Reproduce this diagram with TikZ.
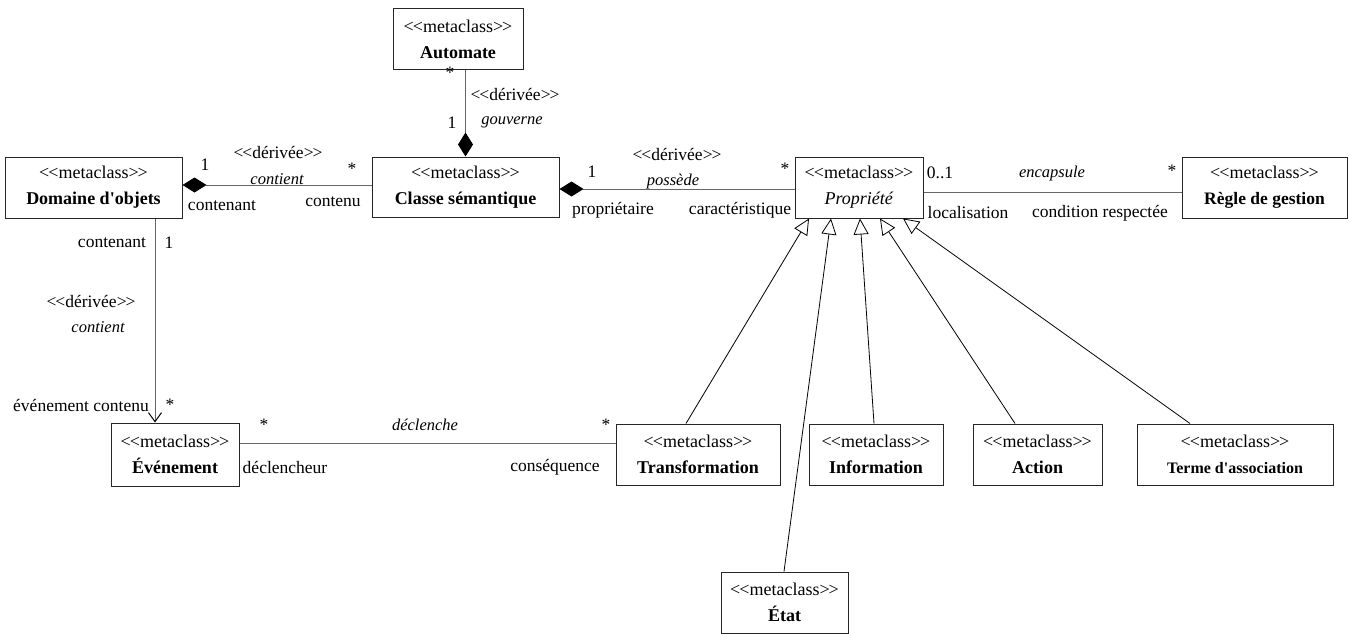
\documentclass[tikz,border=0pt]{standalone}
\usepackage{fontspec}
\setmainfont{Liberation Serif}[Ligatures=TeXOff]
\usetikzlibrary{arrows.meta}
\newcommand\stereo[1]{<\kern-1pt<#1>\kern-1pt>}
\begin{document}
\begin{tikzpicture}[x=1pt,y=-1pt,
  cls/.style={draw=black!85, line width=1pt, align=center, inner sep=0pt, minimum height=61pt, font=\fontsize{18}{26}\selectfont},
  lbl/.style={font=\fontsize{17.5}{18}\selectfont, inner sep=0pt},
  ilbl/.style={font=\fontsize{16.5}{18}\selectfont\itshape, inner sep=0pt},
  assoc/.style={draw=black!60, line width=1pt},
  gen/.style={draw=black, line width=0.8pt, -{Triangle[open,length=16pt,width=15pt]}},
  comp/.style={{Diamond[length=24pt,width=15pt,color=black]}-},
  nav/.style={-{Straight Barb[length=9pt,width=13pt,color=black]}},
]
\useasboundingbox (0,0) rectangle (1352,634);

% classes
\node[cls, minimum width=130pt] (auto) at (458,39.5) {\stereo{metaclass}\\\textbf{Automate}};
\node[cls, minimum width=187pt, minimum height=60pt] (csem) at (465.5,187) {\stereo{metaclass}\\\textbf{Classe sémantique}};
\node[cls, minimum width=177pt] (dom) at (93.5,187.5) {\stereo{metaclass}\\\textbf{Domaine d'objets}};
\node[cls, minimum width=128pt] (prop) at (859,187.5) {\stereo{metaclass}\\\textit{Propriété}};
\node[cls, minimum width=165pt] (regle) at (1264.5,187.5) {\stereo{metaclass}\\{\fontsize{17.5}{26}\selectfont\textbf{Règle de gestion}}};
\node[cls, minimum width=128pt, minimum height=63pt] (evt) at (175,454.5) {\stereo{metaclass}\\\textbf{Événement}};
\node[cls, minimum width=164pt] (trans) at (698,454.5) {\stereo{metaclass}\\\textbf{Transformation}};
\node[cls, minimum width=134pt] (info) at (876,454.5) {\stereo{metaclass}\\\textbf{Information}};
\node[cls, minimum width=129pt] (action) at (1037.5,454.5) {\stereo{metaclass}\\\textbf{Action}};
\node[cls, minimum width=196pt] (terme) at (1235,454.5) {\stereo{metaclass}\\{\fontsize{16}{26}\selectfont\textbf{Terme d'association}}};
\node[cls, minimum width=127pt] (etat) at (784.5,602.5) {\stereo{metaclass}\\\textbf{État}};

% associations
\draw[assoc, comp] (csem.north) -- (csem.north |- auto.south);
\draw[assoc, comp] ([yshift=2.5pt]dom.east) -- ([yshift=2.5pt]dom.east -| csem.west);
\draw[assoc, comp] ([yshift=-2pt]csem.east) -- ([yshift=-2pt]csem.east -| prop.west);
\draw[assoc] ([yshift=-4.5pt]prop.east) -- ([yshift=-4.5pt]prop.east -| regle.west);
\coordinate (dx) at (155,0);
\draw[assoc, comp, nav] (dom.south -| dx) -- (evt.north -| dx);
\draw[assoc] ([yshift=11.5pt]evt.east) -- ([yshift=11.5pt]evt.east -| trans.west);

% generalizations
\draw[gen] ([xshift=-12pt]trans.north) -- ([xshift=-50pt]prop.south);
\draw[gen] ([xshift=-0.5pt]etat.north) -- ([xshift=-28pt]prop.south);
\draw[gen] ([xshift=-2pt]info.north) -- ([xshift=1pt]prop.south);
\draw[gen] ([xshift=-22.5pt]action.north) -- ([xshift=21pt]prop.south);
\draw[gen] ([xshift=-45pt]terme.north) -- ([xshift=44pt]prop.south);

% labels Automate - Classe
\node[lbl] (l1) at (450,73) {*};
\node[lbl] (l2) at (515,95) {\stereo{dérivée}};
\node[lbl] (l3) at (452,123) {1};
\node[ilbl] (l4) at (512,122) {gouverne};

% labels Domaine - Classe
\node[lbl] (l5) at (205,165) {1};
\node[lbl] (l6) at (278,153) {\stereo{dérivée}};
\node[ilbl] (l7) at (277,179) {contient};
\node[lbl] (l8) at (352,169) {*};
\node[lbl] (l9) at (222,206) {contenant};
\node[lbl] (l10) at (333,202) {contenu};

% labels Classe - Propriete
\node[lbl] (l11) at (592,172) {1};
\node[lbl] (l12) at (677,155) {\stereo{dérivée}};
\node[ilbl] (l13) at (673,182) {possède};
\node[lbl] (l14) at (785,169) {*};
\node[lbl] (l15) at (613,210) {propriétaire};
\node[lbl] (l16) at (740,210) {caractéristique};

% labels Propriete - Regle
\node[lbl] (l17) at (940,173) {0..1};
\node[ilbl] (l18) at (1052,174) {encapsule};
\node[lbl] (l19) at (1172,171) {*};
\node[lbl] (l20) at (968,213) {localisation};
\node[lbl] (l21) at (1100,213) {condition respectée};

% labels Domaine - Evenement
\node[lbl] (l22) at (112,243) {contenant};
\node[lbl] (l23) at (169,243) {1};
\node[lbl] (l24) at (91,301) {\stereo{dérivée}};
\node[ilbl] (l25) at (98,327) {contient};
\node[lbl] (l26) at (81,405) {événement contenu};
\node[lbl] (l27) at (170,405) {*};

% labels Evenement - Transformation
\node[lbl] (l28) at (264,425) {*};
\node[ilbl] (l29) at (425,425) {déclenche};
\node[lbl] (l30) at (606,425) {*};
\node[lbl] (l31) at (285,467) {déclencheur};
\node[lbl] (l32) at (555,467) {conséquence};
\end{tikzpicture}
\end{document}
